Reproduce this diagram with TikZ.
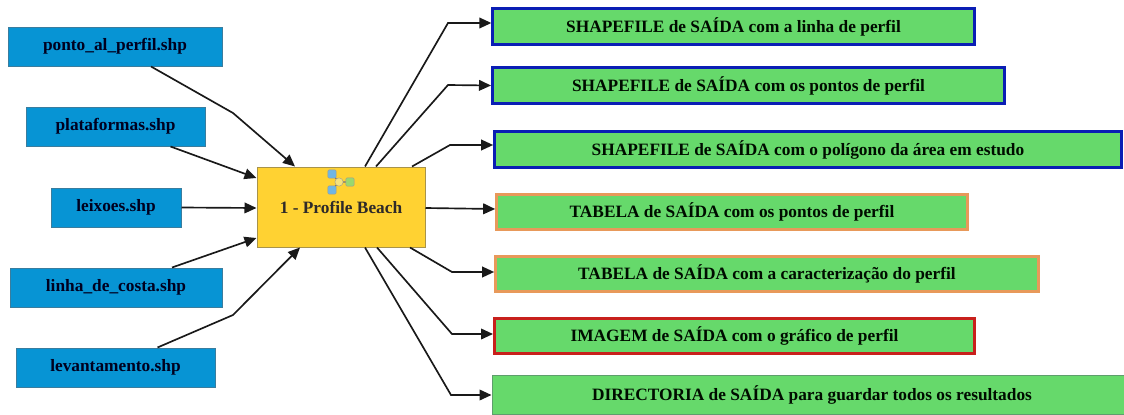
\documentclass[tikz,border=0pt]{standalone}
\usepackage{fontspec}
\setmainfont{Liberation Serif}
\usepackage{xcolor}
\usetikzlibrary{arrows.meta}
\definecolor{inputblue}{HTML}{0794D4}
\definecolor{inputedge}{HTML}{3A7D9E}
\definecolor{coreyellow}{HTML}{FFD232}
\definecolor{coreedge}{HTML}{A8934A}
\definecolor{outgreen}{HTML}{66D96B}
\definecolor{shapeedge}{HTML}{0A1EB4}
\definecolor{tableedge}{HTML}{E8995A}
\definecolor{imageedge}{HTML}{C8201C}
\definecolor{diredge}{HTML}{5E9E6C}
\definecolor{iconblue}{HTML}{6FB6E4}
\definecolor{iconyellow}{HTML}{F6E27C}
\definecolor{icongreen}{HTML}{9AD86E}
\tikzset{every picture/.style={line width=0.75pt}}
\tikzset{
  basebox/.style={inner sep=0pt, font=\fontsize{13}{15}\selectfont\bfseries},
  inputbox/.style={basebox, draw=inputedge, fill=inputblue, text=black!88!blue, minimum height=29.25pt},
  corebox/.style={basebox, draw=coreedge, fill=coreyellow, text=black!95!yellow, minimum width=126pt, minimum height=60pt},
  outbox/.style={basebox, fill=outgreen, text=black!95!green, minimum height=26.5pt},
  shapebox/.style={outbox, draw=shapeedge, line width=2.25pt},
  tablebox/.style={outbox, draw=tableedge, line width=2.25pt},
  imagebox/.style={outbox, draw=imageedge, line width=2.25pt},
  dirbox/.style={outbox, draw=diredge, minimum height=29pt},
  link/.style={draw=black!90, line width=1.25pt, -{Triangle[length=9pt,width=8pt]}},
  iconpart/.style={inner sep=0pt, minimum size=6.2pt, rounded corners=0.8pt, draw=black!40, line width=0.3pt}
}

\begin{document}
\begin{tikzpicture}[x=0.75pt,y=0.75pt,yscale=-1,xscale=1]
\useasboundingbox (0,0) rectangle (1124,414);
\clip (0,0) rectangle (1124,414);

% Input files
\node (ponto) [inputbox, minimum width=160.5pt] at (115,46.5) {ponto\_al\_perfil.shp};
\node (plataformas) [inputbox, minimum width=134.25pt] at (115.5,126.5) {plataformas.shp};
\node (leixoes) [inputbox, minimum width=97.5pt] at (116,207.5) {leixoes.shp};
\node (linha) [inputbox, minimum width=159pt] at (116,287.5) {linha\_de\_costa.shp};
\node (levantamento) [inputbox, minimum width=149.25pt] at (115.5,367.5) {levantamento.shp};

% Tool
\node (core) [corebox] at (341,207) {1 - Profile Beach};

% Tool icon
\draw [line width=0.9pt, black!55] (332,174) -- (339,182) -- (332,190) (339,182) -- (350,182);
\node (iconmid) [iconpart, circle, fill=iconyellow] at (339,182) {};
\node (icontop) [iconpart, fill=iconblue] at (332,174) {};
\node (iconbot) [iconpart, fill=iconblue] at (332,190) {};
\node (iconout) [iconpart, fill=icongreen] at (350,182) {};

% Outputs
\node (outline) [shapebox, minimum width=361pt] at (733.5,26.5) {SHAPEFILE de SAÍDA com a linha de perfil};
\node (outpoints) [shapebox, minimum width=384pt] at (748.5,85.5) {SHAPEFILE de SAÍDA com os pontos de perfil};
\node (outarea) [shapebox, minimum width=470pt] at (808,149.5) {SHAPEFILE de SAÍDA com o polígono da área em estudo};
\node (tabpoints) [tablebox, minimum width=353pt] at (732,212) {TABELA de SAÍDA com os pontos de perfil};
\node (tabprofile) [tablebox, minimum width=407pt] at (767,274) {TABELA de SAÍDA com a caracterização do perfil};
\node (outimage) [imagebox, minimum width=360pt] at (734.5,336) {IMAGEM de SAÍDA com o gráfico de perfil};
\node (outdir) [dirbox, minimum width=480pt] at (812,395) {DIRECTORIA de SAÍDA para guardar todos os resultados};

% Bends
\coordinate (bendponto) at (233,113);
\coordinate (bendlevant) at (233,315);
\coordinate (bendline) at (448,23);
\coordinate (bendpoints) at (448,85);
\coordinate (bendarea) at (450,145);
\coordinate (bendprofile) at (452,272);
\coordinate (bendimage) at (452,334);
\coordinate (benddir) at (451,395);

% Links in
\draw [link] ([shift={(36,0)}]ponto.south) -- (bendponto) -- ([shift={(-46,0)}]core.north);
\draw [link] ([shift={(55,0)}]plataformas.south) -- ([shift={(0,-29)}]core.west);
\draw [link] (leixoes.east) -- ([shift={(0,1)}]core.west);
\draw [link] ([shift={(56,0)}]linha.north) -- ([shift={(0,31)}]core.west);
\draw [link] ([shift={(42,0)}]levantamento.north) -- (bendlevant) -- ([shift={(-41,0)}]core.south);

% Links out
\draw [link] ([shift={(24,0)}]core.north) -- (bendline) -- ([shift={(0,-3.5)}]outline.west);
\draw [link] ([shift={(35,0)}]core.north) -- (bendpoints) -- (outpoints.west);
\draw [link] ([shift={(71,0)}]core.north) -- (bendarea) -- ([shift={(0,-4.5)}]outarea.west);
\draw [link] ([shift={(0,1)}]core.east) -- ([shift={(0,-3)}]tabpoints.west);
\draw [link] ([shift={(69,0)}]core.south) -- (bendprofile) -- ([shift={(0,-2)}]tabprofile.west);
\draw [link] ([shift={(36,0)}]core.south) -- (bendimage) -- ([shift={(0,-2)}]outimage.west);
\draw [link] ([shift={(24,0)}]core.south) -- (benddir) -- (outdir.west);

\end{tikzpicture}
\end{document}
